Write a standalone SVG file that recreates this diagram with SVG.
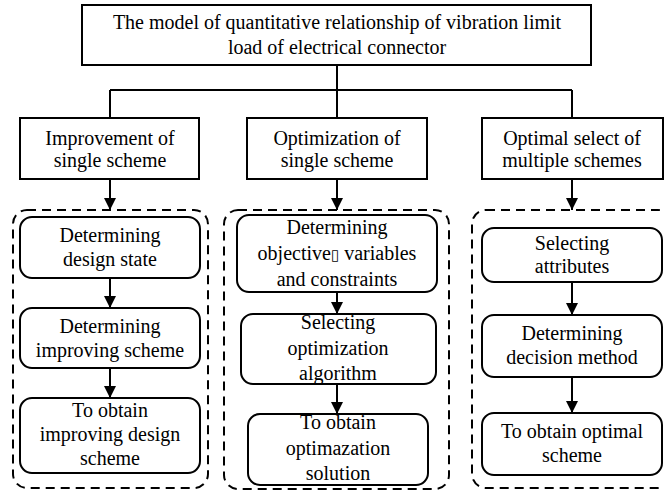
<svg xmlns="http://www.w3.org/2000/svg" width="664" height="490" viewBox="0 0 664 490">
<defs>
<marker id="ah" markerUnits="userSpaceOnUse" markerWidth="14" markerHeight="14" refX="12" refY="6" orient="auto">
<path d="M0,0 L12,6 L0,12 Z" fill="#000"/>
</marker>
<style>
.box{fill:#fff;stroke:#000;stroke-width:2}
.rbox{fill:#fff;stroke:#000;stroke-width:2}
.dash{fill:none;stroke:#000;stroke-width:2;stroke-dasharray:9 6}
.ln{fill:none;stroke:#000;stroke-width:2}
.ar{fill:none;stroke:#000;stroke-width:2;marker-end:url(#ah)}
.t text{font-family:"Times New Roman","Liberation Serif",Tinos,"DejaVu Serif","Noto Serif",serif;font-size:20px;fill:#000;text-anchor:middle}
</style>
</defs>
<rect width="664" height="490" fill="#fff"/>
<g id="groups">
<rect class="dash" x="13" y="210" width="195" height="278" rx="14"/>
<rect class="dash" x="224" y="210" width="225" height="279" rx="14"/>
<rect class="dash" x="472" y="210" width="200" height="278" rx="14"/>
</g>
<g id="connectors">
<path class="ln" d="M337,65 V90 M110,90 H572 M110,90 V118 M337,90 V118 M572,90 V118"/>
<path class="ar" d="M110,179 V210"/>
<path class="ar" d="M337,179 V210"/>
<path class="ar" d="M572,179 V210"/>
<path class="ar" d="M110,278 V308"/>
<path class="ar" d="M110,368 V398"/>
<path class="ar" d="M337,292 V314"/>
<path class="ar" d="M337,384 V414"/>
<path class="ar" d="M572,282 V315"/>
<path class="ar" d="M572,377 V413"/>
</g>
<g class="t">
<g id="top">
<rect class="box" x="82" y="5" width="509" height="60"/>
<text x="337" y="29">The model of quantitative relationship of vibration limit</text>
<text x="337" y="54">load of electrical connector</text>
</g>
<g id="improvement">
<rect class="box" x="20" y="118" width="179" height="61"/>
<text x="110" y="145">Improvement of</text>
<text x="110" y="167">single scheme</text>
</g>
<g id="optimization">
<rect class="box" x="247" y="118" width="180" height="61"/>
<text x="337" y="145">Optimization of</text>
<text x="337" y="167">single scheme</text>
</g>
<g id="optimal-select">
<rect class="box" x="482" y="118" width="181" height="61"/>
<text x="572" y="145">Optimal select of</text>
<text x="572" y="167">multiple schemes</text>
</g>
<g id="l1">
<rect class="rbox" x="20" y="217" width="180" height="61" rx="12"/>
<text x="110" y="242">Determining</text>
<text x="110" y="266">design state</text>
</g>
<g id="l2">
<rect class="rbox" x="20" y="308" width="180" height="60" rx="12"/>
<text x="110" y="333">Determining</text>
<text x="110" y="357">improving scheme</text>
</g>
<g id="l3">
<rect class="rbox" x="20" y="398" width="180" height="75" rx="12"/>
<text x="110" y="417">To obtain</text>
<text x="110" y="441">improving design</text>
<text x="110" y="465">scheme</text>
</g>
<g id="m1">
<rect class="rbox" x="237" y="215" width="200" height="77" rx="12"/>
<text x="337" y="234">Determining</text>
<text x="337" y="260">objective<tspan style="font-family:'DejaVu Sans',sans-serif;font-size:15px">▯</tspan>  variables</text>
<text x="337" y="286">and constraints</text>
</g>
<g id="m2">
<rect class="rbox" x="241" y="314" width="195" height="70" rx="12"/>
<text x="338" y="329">Selecting</text>
<text x="338" y="355">optimization</text>
<text x="338" y="380">algorithm</text>
</g>
<g id="m3">
<rect class="rbox" x="248" y="414" width="180" height="71" rx="12"/>
<text x="338" y="429">To obtain</text>
<text x="338" y="455">optimazation</text>
<text x="338" y="480">solution</text>
</g>
<g id="r1">
<rect class="rbox" x="482" y="228" width="180" height="54" rx="12"/>
<text x="572" y="250">Selecting</text>
<text x="572" y="273">attributes</text>
</g>
<g id="r2">
<rect class="rbox" x="482" y="315" width="180" height="62" rx="12"/>
<text x="572" y="340">Determining</text>
<text x="572" y="364">decision method</text>
</g>
<g id="r3">
<rect class="rbox" x="482" y="413" width="180" height="62" rx="12"/>
<text x="572" y="438">To obtain optimal</text>
<text x="572" y="462">scheme</text>
</g>
</g>
</svg>
